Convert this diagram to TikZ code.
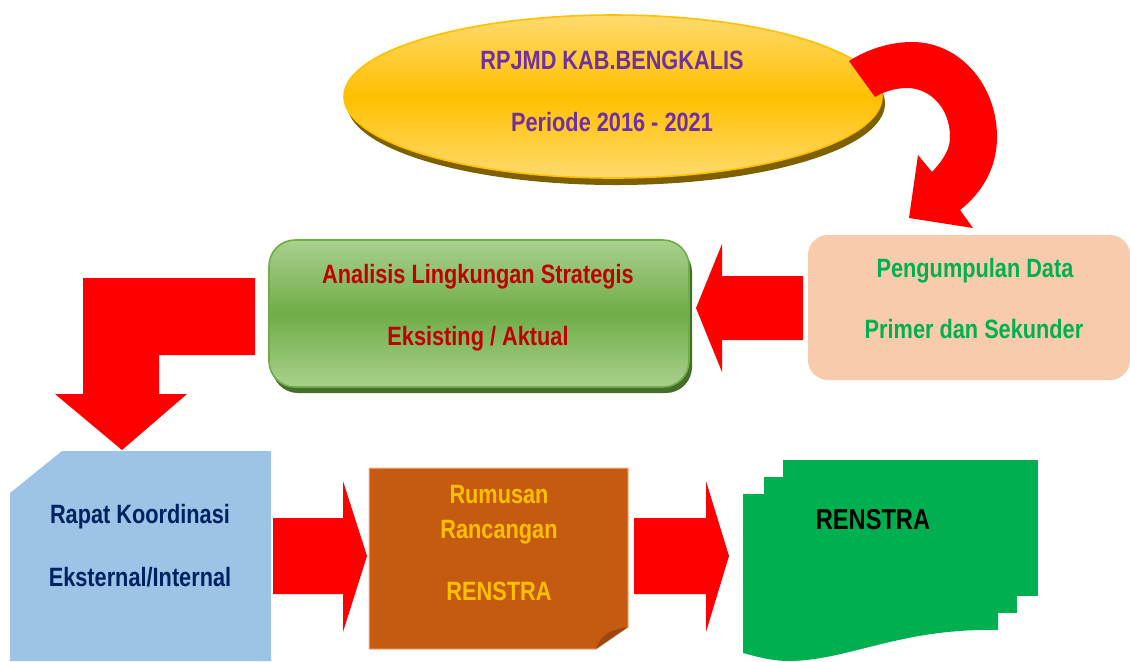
\documentclass[tikz,border=0pt]{standalone}
\usepackage{fontspec}
\setmainfont{Liberation Sans}[FakeStretch=0.82]
\usetikzlibrary{shapes.geometric,shadows}

\definecolor{ellyellow}{HTML}{FFC000}
\definecolor{elllight}{HTML}{FFDA6E}
\definecolor{ellshadow}{HTML}{7F6000}
\definecolor{txtpurple}{HTML}{7030A0}
\definecolor{boxgreen}{HTML}{70AD47}
\definecolor{boxgreenlight}{HTML}{A9D18E}
\definecolor{boxgreenshadow}{HTML}{466E2B}
\definecolor{txtred}{HTML}{C00000}
\definecolor{peach}{HTML}{F8CBAD}
\definecolor{txtgreen}{HTML}{00B050}
\definecolor{paleblue}{HTML}{9DC3E6}
\definecolor{txtnavy}{HTML}{002060}
\definecolor{rustbrown}{HTML}{C55A11}
\definecolor{rustfold}{HTML}{9E4610}
\definecolor{rustedge}{HTML}{F4B183}
\definecolor{docgreen}{HTML}{00B050}
\definecolor{txtgold}{HTML}{FFC000}

\begin{document}
\begin{tikzpicture}
		[x=0.5pt,y=-0.5pt,
		lbl/.style={anchor=base,inner sep=0pt,font=\bfseries\fontsize{13.25}{15}\selectfont},
		blockarrow/.style={fill=red},
		flat/.style={inner sep=0pt,outer sep=0pt}]
		\useasboundingbox (0,0) rectangle (1130,661);
		
		% top ellipse
		\node [flat,ellipse,minimum width=269pt,minimum height=81.5pt,draw=ellyellow,line width=0.8pt,
		top color=elllight,bottom color=elllight,middle color=ellyellow,
		drop shadow={shadow xshift=1.5pt,shadow yshift=-3.5pt,fill=ellshadow,opacity=1}] (rpjmd) at (613,96.5) {};
		\node [lbl,text=txtpurple] (rpjmd-a) at (612,69) {RPJMD KAB.BENGKALIS};
		\node [lbl,text=txtpurple] (rpjmd-b) at (612,131) {Periode 2016 - 2021};
		
		% curved arrow
		\path[blockarrow]
		(849,61) .. controls (868,49) and (890,42) .. (912,42)
		.. controls (960,42) and (997,85) .. (997,137)
		.. controls (997,167) and (983,192) .. (960,210)
		-- (973,228) -- (909,218) -- (918,155) -- (932,172)
		.. controls (945,158) and (950,148) .. (950,137)
		.. controls (950,108) and (930,88) .. (907,88)
		.. controls (895,88) and (883,92) .. (875,97) -- cycle;
		
		% middle row
		\node [flat,rectangle,rounded corners=10pt,minimum width=161pt,minimum height=72.5pt,fill=peach] (data) at (969,307.5) {};
		\node [lbl,text=txtgreen] (data-a) at (975,277) {Pengumpulan Data};
		\node [lbl,text=txtgreen] (data-b) at (974,338) {Primer dan Sekunder};
		
		\node [flat,rectangle,rounded corners=13pt,minimum width=210pt,minimum height=73.5pt,draw=boxgreen,line width=0.8pt,
		top color=boxgreenlight,bottom color=boxgreenlight,middle color=boxgreen,
		drop shadow={shadow xshift=1.5pt,shadow yshift=-3pt,fill=boxgreenshadow,opacity=1}] (analisis) at (479,313.5) {};
		\node [lbl,text=txtred] (analisis-a) at (478,283) {Analisis Lingkungan Strategis};
		\node [lbl,text=txtred] (analisis-b) at (478,345) {Eksisting / Aktual};
		
		\path[blockarrow] (803,276) -- (722,276) -- (722,244) -- (696,308) -- (722,372) -- (722,340) -- (803,340) -- cycle;
		\path[blockarrow] (255,278) -- (83,278) -- (83,394) -- (55,394) -- (122,450) -- (187,394) -- (159,394) -- (159,355) -- (255,355) -- cycle;
		
		% bottom row
		\fill[paleblue] (62,451) -- (271,451) -- (271,661) -- (10,661) -- (10,493) -- cycle;
		\node [lbl,text=txtnavy] (rapat-a) at (140,523) {Rapat Koordinasi};
		\node [lbl,text=txtnavy] (rapat-b) at (140,586) {Eksternal/Internal};
		
		\filldraw[fill=rustbrown,draw=rustedge,line width=0.5pt] (369,468) -- (628,468) -- (628,627) -- (596,649) -- (369,649) -- cycle;
		\fill[rustfold] (628,627) -- (596,649) .. controls (600,638) and (606,630) .. (628,627) -- cycle;
		\node [lbl,text=txtgold] (rumusan-a) at (499,503) {Rumusan};
		\node [lbl,text=txtgold] (rumusan-b) at (499,538) {Rancangan};
		\node [lbl,text=txtgold] (rumusan-c) at (499,600) {RENSTRA};
		
		\fill[docgreen] (783,460) rectangle (1038,596);
		\fill[docgreen] (764,477) rectangle (1017,613);
		\fill[docgreen] (743,494) -- (998,494) -- (998,630)
		.. controls (900,628) and (850,660) .. (790,661)
		.. controls (770,661) and (755,656) .. (743,653) -- cycle;
		\node [lbl,font=\bfseries\fontsize{14.4}{16}\selectfont] (renstra) at (873,529) {RENSTRA};
		
		\path[blockarrow] (273,518) -- (343,518) -- (343,481) -- (367,556) -- (343,632) -- (343,594) -- (273,594) -- cycle;
		\path[blockarrow] (634,518) -- (706,518) -- (706,481) -- (729,556) -- (706,632) -- (706,594) -- (634,594) -- cycle;
		
		\end{tikzpicture}
\end{document}
